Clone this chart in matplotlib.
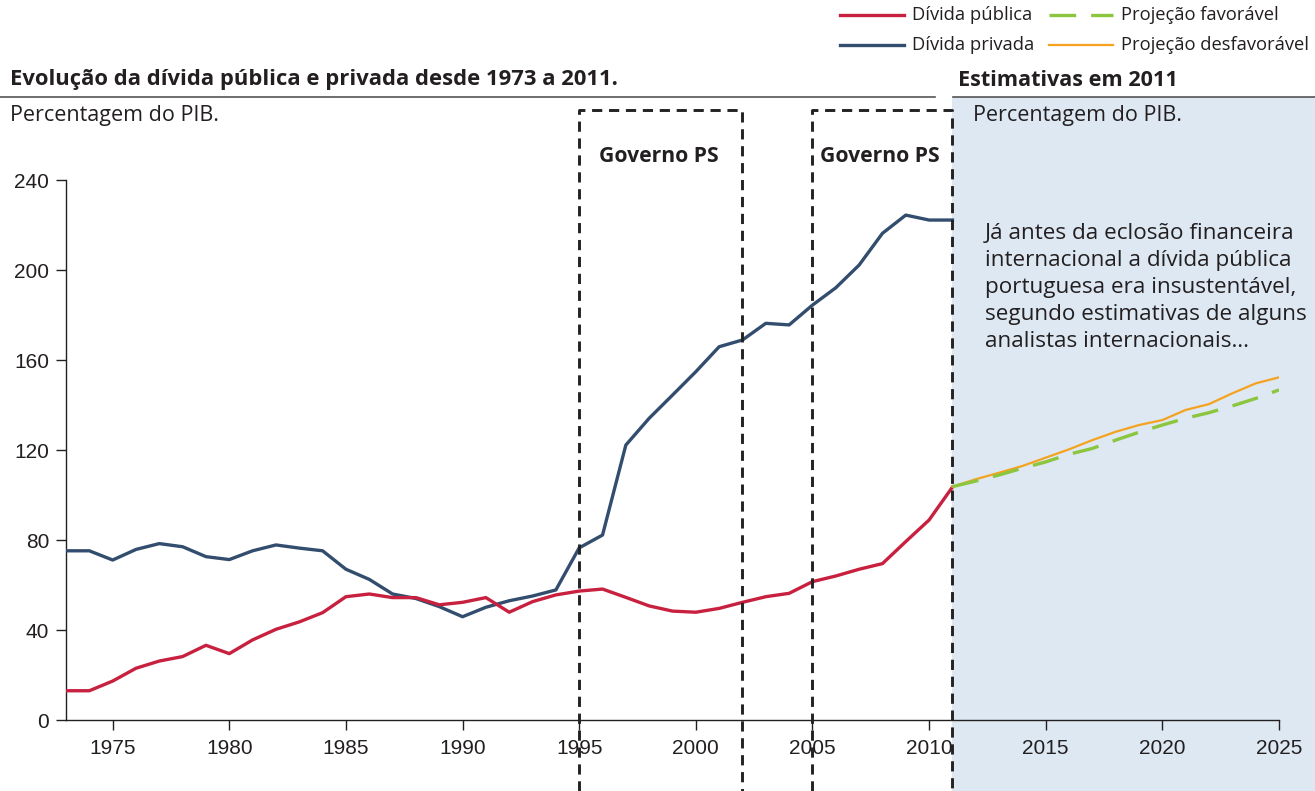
import matplotlib
matplotlib.use("Agg")
import matplotlib.pyplot as plt
from matplotlib.lines import Line2D
from matplotlib.patches import Rectangle
import matplotlib.transforms as mtransforms

years_hist = list(range(1973, 2012))
divida_publica = [13.0, 13.0, 17.3, 23.0, 26.2, 28.2, 33.2, 29.5, 35.6, 40.3,
                  43.6, 47.7, 54.8, 56.0, 54.4, 54.4, 51.2, 52.3, 54.4, 47.9,
                  52.6, 55.6, 57.3, 58.2, 54.5, 50.7, 48.4, 47.9, 49.6, 52.3,
                  54.8, 56.3, 61.5, 64.0, 67.0, 69.5, 79.3, 88.9, 103.5]
divida_privada = [75.2, 75.2, 71.1, 75.8, 78.4, 77.0, 72.6, 71.3, 75.2, 77.8,
                  76.4, 75.2, 67.0, 62.5, 56.0, 54.0, 50.4, 45.9, 50.1, 53.0,
                  55.1, 57.8, 76.5, 82.2, 122.2, 134.1, 144.4, 154.8, 165.9, 168.9,
                  176.3, 175.6, 184.4, 192.1, 202.2, 216.3, 224.4, 222.2, 222.2]
years_proj = list(range(2011, 2026))
proj_favoravel = [103.7, 106.2, 108.9, 111.9, 114.7, 118.1, 120.7, 124.4,
                  127.9, 131.1, 134.1, 136.6, 139.6, 142.9, 146.7]
proj_desfavoravel = [103.7, 107.0, 109.9, 112.9, 116.6, 120.3, 124.4, 128.1,
                     131.1, 133.3, 137.8, 140.4, 145.2, 149.6, 152.3]
governos = [(1995, 2002), (2005, 2011)]
x_ticks = [1975, 1980, 1985, 1990, 1995, 2000, 2005, 2010, 2015, 2020, 2025]
y_ticks = [0, 40, 80, 120, 160, 200, 240]
note_lines = ["Já antes da eclosão financeira",
              "internacional a dívida pública",
              "portuguesa era insustentável,",
              "segundo estimativas de alguns",
              "analistas internacionais…"]

RED = "#c8203f"
BLUE = "#334d6e"
GREEN = "#8cc63e"
ORANGE = "#f5a31f"
SHADE = "#dde8f3"
TXT = "#231f20"

W, H = 1315, 791
fig = plt.figure(figsize=(W / 100, H / 100), dpi=100)
FONT = ["Open Sans", "DejaVu Sans"]
TICKFONT = ["Liberation Sans", "DejaVu Sans"]


def fx(x):
    return x / W


def fy(y):
    return 1 - y / H


ax = fig.add_axes([fx(66), fy(720), fx(1279) - fx(66), fy(180) - fy(720)])
ax.patch.set_visible(False)

# shaded estimate region
fig.patches.append(Rectangle((fx(952), 0), 1 - fx(952), fy(97), transform=fig.transFigure,
                             facecolor=SHADE, edgecolor="none", zorder=-5))

ax.plot(years_hist, divida_privada, color=BLUE, lw=2.4, zorder=3)
ax.plot(years_hist, divida_publica, color=RED, lw=2.4, zorder=3)
ax.plot(years_proj, proj_desfavoravel, color=ORANGE, lw=1.6, zorder=4)
ax.plot(years_proj, proj_favoravel, color=GREEN, lw=2.4, dashes=(8, 4.5), zorder=4)

ax.set_xlim(1973, 2025)
ax.set_ylim(0, 240)
ax.set_xticks(x_ticks)
ax.set_yticks(y_ticks)
for s in ["top", "right"]:
    ax.spines[s].set_visible(False)
for s in ["left", "bottom"]:
    ax.spines[s].set_color("#231f20")
    ax.spines[s].set_linewidth(1.0)
ax.tick_params(axis="both", colors=TXT, labelsize=15, length=7, width=1.0)
ax.tick_params(axis="x", pad=7)
ax.tick_params(axis="y", pad=5)
for lab in ax.get_xticklabels() + ax.get_yticklabels():
    lab.set_fontfamily(TICKFONT)
    lab.set_color(TXT)

# dashed government boxes
trans = mtransforms.blended_transform_factory(ax.transData, fig.transFigure)
for (a, b) in governos:
    ax.plot([a, a, b, b], [0, fy(110), fy(110), 0], transform=trans, clip_on=False,
            color="#222222", lw=2.1, dashes=(3.5, 2.3), zorder=5)
    ax.text((a + b) / 2 - 0.1, fy(156), "Governo PS", transform=trans, ha="center",
            va="center", fontsize=15.2, fontweight="bold", color=TXT, family=FONT)

# titles
fig.text(fx(10), fy(80), "Evolução da dívida pública e privada desde 1973 a 2011.",
         fontsize=15.8, fontweight="bold", color=TXT, family=FONT, va="center", ha="left")
fig.text(fx(958), fy(80), "Estimativas em 2011", fontsize=15.6, fontweight="bold",
         color=TXT, family=FONT, va="center", ha="left")
fig.add_artist(Line2D([0, fx(935)], [fy(97), fy(97)], transform=fig.transFigure,
                      color="#555555", lw=1.2))
fig.add_artist(Line2D([fx(953), 1], [fy(97), fy(97)], transform=fig.transFigure,
                      color="#555555", lw=1.2))
fig.text(fx(10), fy(115), "Percentagem do PIB.", fontsize=15.5, color=TXT, family=FONT,
         va="center", ha="left")
fig.text(fx(973), fy(115), "Percentagem do PIB.", fontsize=15.5, color=TXT, family=FONT,
         va="center", ha="left")

for i, line in enumerate(note_lines):
    fig.text(fx(985), fy(239 + 27 * i), line, fontsize=16.2, color=TXT, family=FONT,
             va="baseline", ha="left")

# legend
leg = [
    (840, 15, RED, None, 2.4, "Dívida pública"),
    (840, 45, BLUE, None, 2.4, "Dívida privada"),
    (1049, 15, GREEN, (8, 4.5), 2.4, "Projeção favorável"),
    (1049, 45, ORANGE, None, 1.6, "Projeção desfavorável"),
]
for x0, y0, c, d, lw, lab in leg:
    kw = {}
    if d:
        kw["dashes"] = d
    fig.add_artist(Line2D([fx(x0), fx(x0 + 64)], [fy(y0), fy(y0)], transform=fig.transFigure,
                          color=c, lw=lw, **kw))
    fig.text(fx(x0 + 72), fy(y0), lab, fontsize=13.2, color=TXT, family=FONT,
             va="center", ha="left")

fig.savefig("out.png", dpi=100)
